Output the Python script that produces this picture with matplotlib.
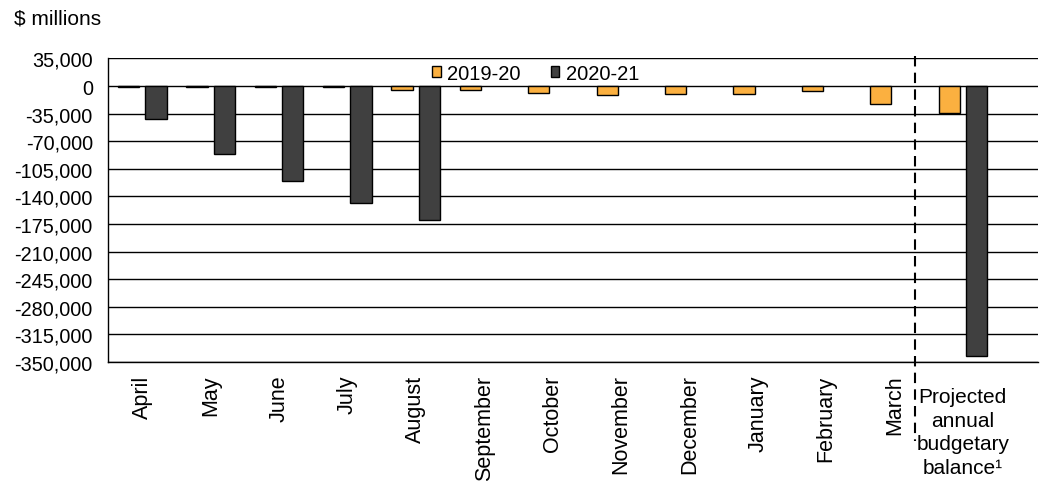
import matplotlib
matplotlib.use("Agg")
import matplotlib.pyplot as plt
import matplotlib.transforms as mtransforms
from matplotlib.ticker import FuncFormatter, MultipleLocator

plt.rcParams['font.family'] = ['Liberation Sans', 'DejaVu Sans']

categories = ["April", "May", "June", "July", "August", "September", "October",
              "November", "December", "January", "February", "March",
              "Projected\nannual\nbudgetary\nbalance\u00b9"]
fy2019 = [-600, -600, -600, -600, -5000, -5000, -9200, -11800, -10500, -10500, -6600, -22300, -33800]
fy2020 = [-42000, -86400, -120800, -148700, -170300, None, None, None, None, None, None, None, -342800]
series_names = ["2019-20", "2020-21"]

fig = plt.figure(figsize=(10.46, 5.02), dpi=100)
ax = fig.add_axes([0.1033, 0.2769, 0.8891, 0.6046])

YFS = 14.3   # y tick labels
HFS = 15     # other horizontal text
LFS = 14.5   # legend
VFS = 15.5   # rotated text

x = list(range(len(categories)))
w = 0.31
off = 0.2
orange = "#FBB040"
dark = "#404040"

x20 = [i for i, v in zip(x, fy2020) if v is not None]
v20 = [v for v in fy2020 if v is not None]
ax.bar([i - off for i in x], fy2019, width=w, color=orange, edgecolor="black",
       linewidth=1, label=series_names[0], zorder=3)
ax.bar([i + off for i in x20], v20, width=w, color=dark, edgecolor="black",
       linewidth=1, label=series_names[1], zorder=3)

ax.set_ylim(-350000, 35000)
ax.set_xlim(-0.5, 13.1)
ax.yaxis.set_major_locator(MultipleLocator(35000))
ax.yaxis.set_major_formatter(FuncFormatter(lambda v, p: f"{int(round(v)):,}"))
ax.grid(axis="y", color="black", linewidth=1, zorder=0)
for s in ["top", "right"]:
    ax.spines[s].set_visible(False)
ax.spines["left"].set_linewidth(1)
ax.spines["bottom"].set_linewidth(1)
ax.tick_params(axis="y", length=0, labelsize=YFS, pad=11)
ax.tick_params(axis="x", length=0, labelsize=VFS, pad=9)

ax.set_xticks(x)
labels = ax.set_xticklabels(categories[:-1] + [""])
for lab in labels[:-1]:
    lab.set_rotation(90)
    lab.set_ha("center")
    lab.set_va("top")

trans = mtransforms.blended_transform_factory(ax.transData, ax.transAxes)
ax.text(x[-1], -0.083, categories[-1], transform=trans, ha="center", va="top",
        fontsize=HFS, linespacing=1.3)

ax.plot([11.3, 11.3], [1.008, -0.26], transform=trans, color="black",
        linestyle=(0, (5, 3)), linewidth=1.5, clip_on=False, zorder=4)

leg = ax.legend(loc="center", bbox_to_anchor=(0.46, 0.952), ncol=2, frameon=False,
                fontsize=LFS, handlelength=0.42, handleheight=0.42, handletextpad=0.32,
                columnspacing=1.5, borderaxespad=0)

fig.text(0.013, 0.963, "$ millions", fontsize=HFS, ha="left", va="center")

fig.savefig("out.png", dpi=100)
